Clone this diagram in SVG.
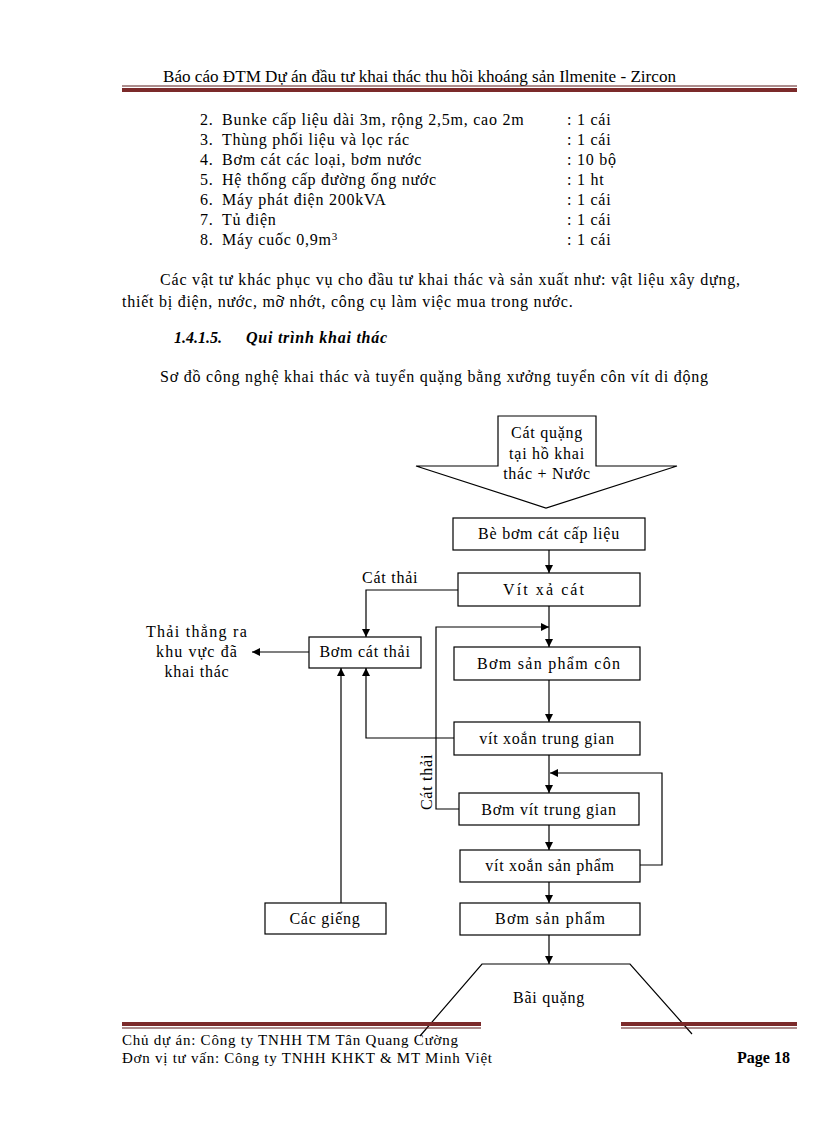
<svg xmlns="http://www.w3.org/2000/svg" width="816" height="1123" viewBox="0 0 816 1123">
<style>
text{font-family:"Liberation Serif","Times New Roman",serif;font-size:16px;fill:#000}
.ls{letter-spacing:0.75px}
.c{text-anchor:middle;letter-spacing:0.75px}
.box{fill:#fff;stroke:#000;stroke-width:1.2}
.ln{fill:none;stroke:#000;stroke-width:1.2}
.band{fill:#7b2a2a}
.thin{stroke:#5a1a1a;stroke-width:1}
.ft{font-size:15px}
</style>
<defs>
<marker id="ah" markerUnits="userSpaceOnUse" markerWidth="9" markerHeight="8" refX="8" refY="4" orient="auto">
<path d="M0,0 L8,4 L0,8 Z" fill="#000"/>
</marker>
</defs>
<rect width="816" height="1123" fill="#fff"/>

<g id="header">
<text x="163" y="82" font-size="15" textLength="513" lengthAdjust="spacingAndGlyphs">Báo cáo ĐTM Dự án đầu tư khai thác thu hồi khoáng sản Ilmenite  - Zircon</text>
<line class="thin" x1="122" y1="86" x2="797" y2="86"/>
<rect class="band" x="122" y="88" width="675" height="4"/>
</g>

<g id="list" class="ls">
<text x="200" y="125">2.</text><text x="222" y="125" class="ls">Bunke  cấp liệu dài 3m, rộng 2,5m, cao 2m</text><text x="567" y="125">: 1 cái</text>
<text x="200" y="145">3.</text><text x="222" y="145" class="ls">Thùng  phối liệu và  lọc rác</text><text x="567" y="145">: 1 cái</text>
<text x="200" y="165">4.</text><text x="222" y="165" class="ls">Bơm cát các loại, bơm nước</text><text x="567" y="165">: 10 bộ</text>
<text x="200" y="185">5.</text><text x="222" y="185" class="ls">Hệ thống cấp đường ống nước</text><text x="567" y="185">: 1 ht</text>
<text x="200" y="205">6.</text><text x="222" y="205" class="ls">Máy phát điện 200kVA</text><text x="567" y="205">: 1 cái</text>
<text x="200" y="225">7.</text><text x="222" y="225" class="ls">Tủ điện</text><text x="567" y="225">: 1 cái</text>
<text x="200" y="245">8.</text><text x="222" y="245" class="ls">Máy cuốc 0,9m<tspan font-size="11" dy="-5">3</tspan></text><text x="567" y="245">: 1 cái</text>
</g>

<g id="paragraph">
<text x="160" y="285" textLength="580" lengthAdjust="spacing">Các vật tư khác phục vụ cho đầu tư khai thác và sản xuất như: vật liệu xây dựng,</text>
<text x="122" y="307" class="ls">thiết bị điện, nước, mỡ nhớt, công cụ làm việc mua trong nước.</text>
<text x="174" y="343" font-weight="bold" font-style="italic">1.4.1.5.</text>
<text x="246" y="343" font-weight="bold" font-style="italic" class="ls">Qui trình khai thác</text>
<text x="160" y="382" textLength="548" lengthAdjust="spacing">Sơ đồ công nghệ khai thác và tuyển quặng bằng xưởng tuyển côn vít di động</text>
</g>

<g id="n-input">
<path class="box" d="M498,416 H596 V466 H677 L546,508 L416,466 H498 Z"/>
<text class="c" x="547" y="438">Cát quặng</text>
<text class="c" x="547" y="459">tại hồ khai</text>
<text class="c" x="547" y="479">thác + Nước</text>
</g>
<g id="n-bebom"><rect class="box" x="453" y="518" width="192" height="32"/><text class="c" x="549" y="539">Bè bơm cát cấp liệu</text></g>
<g id="n-vitxa"><rect class="box" x="458" y="573" width="182" height="33"/><text x="503" y="595" textLength="81" lengthAdjust="spacing">Vít xả cát</text></g>
<g id="n-bomcatthai"><rect class="box" x="309" y="637" width="112" height="31"/><text class="c" x="365" y="657">Bơm cát thải</text></g>
<g id="n-thaithang">
<text class="c" x="197" y="637" style="letter-spacing:1.3px">Thải thẳng ra</text>
<text class="c" x="197" y="657" style="letter-spacing:1.1px">khu vực đã</text>
<text class="c" x="197" y="677">khai thác</text>
</g>
<g id="n-bomcon"><rect class="box" x="454" y="647" width="186" height="33"/><text x="477" y="669" textLength="143" lengthAdjust="spacing">Bơm sản phẩm  côn</text></g>
<g id="n-vitxoantg"><rect class="box" x="454" y="722" width="186" height="33"/><text class="c" x="547" y="744">vít xoắn trung gian</text></g>
<g id="n-bomvittg"><rect class="box" x="459" y="793" width="180" height="32"/><text class="c" x="549" y="815">Bơm vít trung gian</text></g>
<g id="n-vitxoansp"><rect class="box" x="460" y="850" width="180" height="32"/><text class="c" x="550" y="871">vít xoắn sản phẩm</text></g>
<g id="n-bomsp"><rect class="box" x="460" y="903" width="180" height="32"/><text x="495" y="924" textLength="110" lengthAdjust="spacing">Bơm sản phẩm</text></g>
<g id="n-gieng"><rect class="box" x="265" y="903" width="121" height="31"/><text class="c" x="325" y="924">Các giếng</text></g>
<g id="n-baiquang">
<polyline class="ln" points="420,1036 482,964 630,964 692,1034"/>
<text class="c" x="549" y="1003">Bãi quặng</text>
</g>

<g id="connectors" class="ln">
<path class="ln" d="M549,550 V573" marker-end="url(#ah)"/>
<path class="ln" d="M458,590 H366 V637" marker-end="url(#ah)"/>
<path class="ln" d="M309,652 H252" marker-end="url(#ah)"/>
<path class="ln" d="M549,606 V647" marker-end="url(#ah)"/>
<path class="ln" d="M459,809 H436 V627 H549" marker-end="url(#ah)"/>
<path class="ln" d="M549,680 V722" marker-end="url(#ah)"/>
<path class="ln" d="M454,738 H366 V668" marker-end="url(#ah)"/>
<path class="ln" d="M549,755 V793" marker-end="url(#ah)"/>
<path class="ln" d="M640,865 H662 V773 H550" marker-end="url(#ah)"/>
<path class="ln" d="M549,825 V850" marker-end="url(#ah)"/>
<path class="ln" d="M549,882 V903" marker-end="url(#ah)"/>
<path class="ln" d="M549,935 V964" marker-end="url(#ah)"/>
<path class="ln" d="M341,903 V668" marker-end="url(#ah)"/>
</g>
<g id="labels">
<text x="362" y="583" class="ls">Cát thải</text>
<text class="c" transform="translate(432,782) rotate(-90)">Cát thải</text>
</g>

<g id="footer">
<rect class="band" x="122" y="1022" width="359" height="4"/>
<line class="thin" x1="122" y1="1028" x2="481" y2="1028"/>
<rect class="band" x="621" y="1022" width="176" height="4"/>
<line class="thin" x1="621" y1="1028" x2="797" y2="1028"/>
<text x="122" y="1045" class="ft" textLength="336" lengthAdjust="spacing">Chủ dự án: Công ty TNHH TM Tân Quang Cường</text>
<text x="122" y="1063" class="ft" textLength="370" lengthAdjust="spacing">Đơn vị tư vấn: Công ty TNHH KHKT &amp; MT Minh Việt</text>
<text x="737" y="1063" font-weight="bold" font-size="15">Page 18</text>
</g>
</svg>
